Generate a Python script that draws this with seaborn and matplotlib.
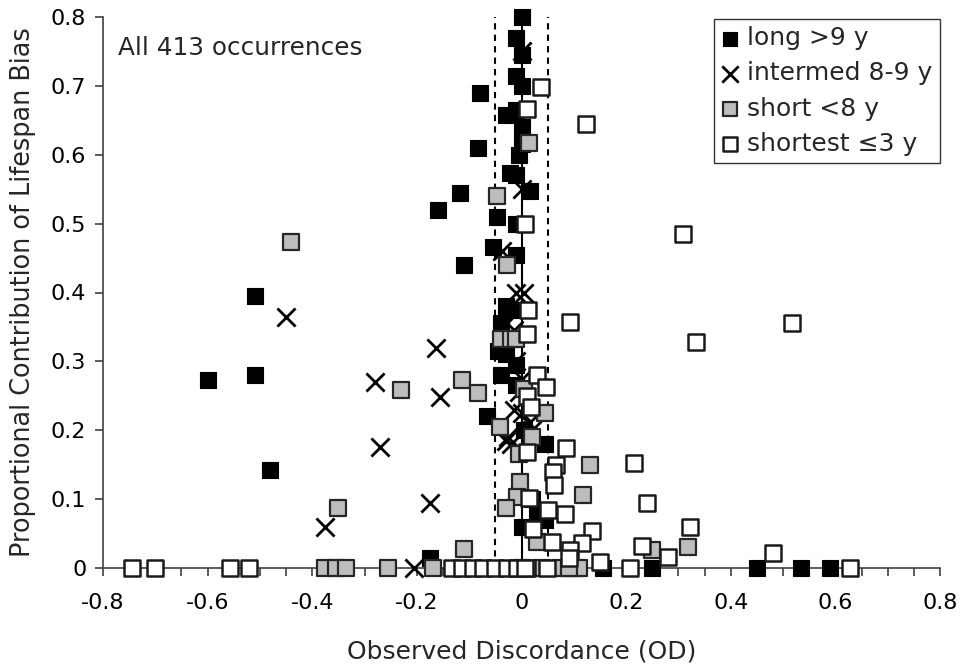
import matplotlib
matplotlib.use("Agg")
import matplotlib.pyplot as plt
import seaborn as sns
import pandas as pd
import numpy as np
from matplotlib.ticker import MultipleLocator, FuncFormatter

sns.set_theme(style="white")
plt.rcParams['font.family'] = ['DejaVu Sans']

# ---- data ----
long_x = [0.00, -0.01, 0.00, -0.01, 0.00, -0.08, -0.03, -0.01, 0.00, 0.00, -0.005, -0.083,
          -0.022, -0.01, -0.118, 0.016, -0.16, -0.047, -0.01, -0.055, -0.01, -0.11, -0.03,
          -0.01, -0.04, -0.045, -0.03, -0.01, -0.04, -0.01, -0.065, 0.005, 0.045, 0.02,
          0.03, 0.045, -0.175, 0.155, 0.25, 0.45, 0.535, 0.59, -0.60, -0.51, -0.51, -0.48,
          0.035, 0.0]
long_y = [0.80, 0.77, 0.745, 0.715, 0.70, 0.69, 0.657, 0.665, 0.64, 0.615, 0.60, 0.61,
          0.573, 0.57, 0.545, 0.548, 0.52, 0.51, 0.50, 0.466, 0.455, 0.44, 0.38,
          0.375, 0.355, 0.315, 0.31, 0.295, 0.28, 0.265, 0.22, 0.20, 0.18, 0.10,
          0.08, 0.07, 0.015, 0.0, 0.0, 0.0, 0.0, 0.0, 0.273, 0.395, 0.28, 0.142,
          0.0, 0.06]

inter_x = [0.00, -0.45, -0.28, -0.27, -0.163, -0.155, -0.175, -0.375, -0.205, 0.00, -0.037,
           -0.01, 0.005, -0.035, -0.015, -0.01, 0.00, -0.005, -0.015, 0.00, 0.015, -0.025,
           -0.02, -0.03, 0.02]
inter_y = [0.75, 0.365, 0.27, 0.175, 0.32, 0.248, 0.095, 0.06, 0.0, 0.55, 0.46,
           0.40, 0.40, 0.35, 0.345, 0.30, 0.275, 0.255, 0.23, 0.225, 0.21, 0.19,
           0.18, 0.185, 0.20]

short_x = [-0.44, -0.35, -0.375, -0.355, -0.335, -0.255, -0.17, -0.11, -0.23, -0.114, -0.083,
           -0.047, 0.015, -0.028, -0.04, -0.041, 0.045, -0.005, -0.002, -0.008, -0.03, 0.03,
           0.13, 0.118, 0.25, 0.318, 0.005, 0.02, 0.10, 0.11, 0.075, 0.09, 0.00, -0.02,
           0.04, -0.01]
short_y = [0.473, 0.087, 0.0, 0.0, 0.0, 0.0, 0.0, 0.027, 0.258, 0.273, 0.254,
           0.54, 0.617, 0.44, 0.333, 0.205, 0.225, 0.165, 0.125, 0.103, 0.087, 0.038,
           0.15, 0.106, 0.026, 0.03, 0.26, 0.19, 0.0, 0.0, 0.0, 0.0, 0.0, 0.333,
           0.0, 0.333]

shortest_x = [-0.745, -0.70, -0.557, -0.52, -0.133, -0.114, -0.093, -0.074, -0.051, -0.028,
              -0.009, 0.011, 0.007, 0.049, 0.15, 0.207, 0.628,
              0.037, 0.01, 0.123, 0.308, 0.093, 0.517, 0.333, 0.007, 0.012, 0.01, 0.03,
              0.047, 0.01, 0.018, 0.01, 0.085, 0.065, 0.06, 0.062, 0.215, 0.24, 0.014,
              0.05, 0.083, 0.022, 0.058, 0.135, 0.115, 0.093, 0.09, 0.23, 0.28, 0.323,
              0.48]
shortest_y = [0.0, 0.0, 0.0, 0.0, 0.0, 0.0, 0.0, 0.0, 0.0, 0.0,
              0.0, 0.0, 0.0, 0.0, 0.009, 0.0, 0.0,
              0.698, 0.667, 0.645, 0.485, 0.357, 0.355, 0.328, 0.50, 0.375, 0.34, 0.28,
              0.263, 0.25, 0.234, 0.168, 0.174, 0.15, 0.14, 0.12, 0.152, 0.094, 0.101,
              0.084, 0.078, 0.057, 0.038, 0.054, 0.036, 0.026, 0.014, 0.032, 0.016, 0.06,
              0.022]

labels = ["long >9 y", "intermed 8-9 y", "short <8 y", "shortest \u22643 y"]
x_ticks = [-0.8, -0.6, -0.4, -0.2, 0, 0.2, 0.4, 0.6, 0.8]

# ---- figure ----
fig = plt.figure(figsize=(9.66, 6.64), dpi=100)
ax = fig.add_axes([103/966, 1-568/664, (940-103)/966, (568-17)/664])

spine_c = '#404040'
# reference lines
ax.plot([0, 0], [0, 0.8], color='black', lw=1.5, zorder=1)
ax.plot([-0.05, -0.05], [0, 0.8], color='black', lw=1.5, ls=(0, (3, 2.5)), zorder=1)
ax.plot([0.05, 0.05], [0, 0.8], color='black', lw=1.5, ls=(0, (3, 2.5)), zorder=1)

sq = 125
df_long = pd.DataFrame({'x': long_x, 'y': long_y})
df_int = pd.DataFrame({'x': inter_x, 'y': inter_y})
df_short = pd.DataFrame({'x': short_x, 'y': short_y})
df_sh = pd.DataFrame({'x': shortest_x, 'y': shortest_y})

sns.scatterplot(data=df_long, x='x', y='y', ax=ax, marker='s', s=sq, color='black',
                edgecolor='black', linewidth=0.8, clip_on=False, zorder=3, label=labels[0])
sns.scatterplot(data=df_int, x='x', y='y', ax=ax, marker='x', s=170, color='black',
                linewidth=2.0, clip_on=False, zorder=4, label=labels[1])
sns.scatterplot(data=df_short, x='x', y='y', ax=ax, marker='s', s=sq, color='#bdbdbd',
                edgecolor='#262626', linewidth=1.6, clip_on=False, zorder=5, label=labels[2])
sns.scatterplot(data=df_sh, x='x', y='y', ax=ax, marker='s', s=sq, color='white',
                edgecolor='#1a1a1a', linewidth=1.8, clip_on=False, zorder=6, label=labels[3])

ax.set_xlim(-0.8, 0.8)
ax.set_ylim(0, 0.8)
ax.set_xticks(x_ticks)
ax.xaxis.set_minor_locator(MultipleLocator(0.05))
ax.yaxis.set_major_locator(MultipleLocator(0.1))

def fmt(v, pos):
    if abs(v) < 1e-9:
        return '0'
    return f'{v:.1f}'
ax.xaxis.set_major_formatter(FuncFormatter(fmt))
ax.yaxis.set_major_formatter(FuncFormatter(fmt))

for s in ['top', 'right']:
    ax.spines[s].set_visible(False)
for s in ['left', 'bottom']:
    ax.spines[s].set_color(spine_c)
    ax.spines[s].set_linewidth(1.2)
ax.tick_params(axis='both', which='both', direction='out', color=spine_c, width=1.2,
               labelsize=16, labelcolor='black')
ax.tick_params(axis='x', which='both', length=6, bottom=True, pad=12)
ax.tick_params(axis='y', which='major', length=6, left=True, pad=6)

ax.set_xlabel('Observed Discordance (OD)', fontsize=18, labelpad=19)
ax.set_ylabel('Proportional Contribution of Lifespan Bias', fontsize=18.4, labelpad=11)

ax.text(0.018, 0.943, 'All 413 occurrences', transform=ax.transAxes, fontsize=17.8,
        ha='left', va='center')

leg = ax.legend(loc='upper right', bbox_to_anchor=(1.0, 0.997), fontsize=18,
                frameon=True, fancybox=False, borderaxespad=0, handlelength=0.75,
                handletextpad=0.3, labelspacing=0.45, borderpad=0.3, markerscale=0.9)
leg.get_frame().set_edgecolor('black')
leg.get_frame().set_linewidth(1.0)

fig.savefig('out.png', dpi=100)
